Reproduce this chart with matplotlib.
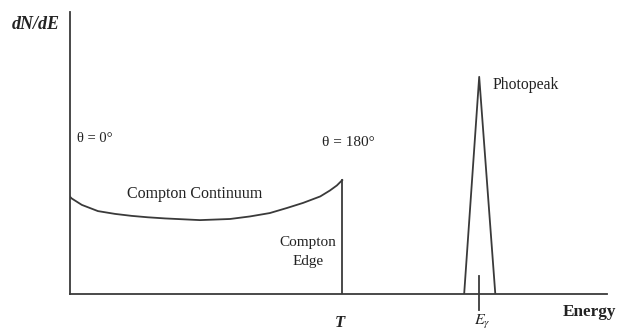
import matplotlib
matplotlib.use("Agg")
import matplotlib.pyplot as plt

# Compton continuum (energy, dN/dE) in arbitrary units
continuum_E = [0.0, 0.03, 0.22, 0.52, 0.84, 1.15, 1.45, 1.77, 2.42, 2.98, 3.35,
               3.72, 4.04, 4.34, 4.66, 4.84, 4.97, 5.07]
continuum_N = [3.45, 3.39, 3.16, 2.94, 2.84, 2.77, 2.72, 2.68, 2.62, 2.66, 2.75,
               2.87, 3.05, 3.23, 3.46, 3.67, 3.85, 4.04]
compton_edge_T = 5.07
# Photopeak triangle
peak_E = [7.34, 7.62, 7.92]
peak_N = [0.0, 7.70, 0.0]
E_gamma = 7.62

plt.rcParams['font.family'] = ['Liberation Serif', 'DejaVu Serif']
plt.rcParams['mathtext.fontset'] = 'stix'
col = '#3a3a3a'
lw = 1.3

fig = plt.figure(figsize=(6.21, 3.33), dpi=100)
ax = fig.add_axes([70/621, 39/333, 537/621, 282/333])
ax.set_xlim(0, 10)
ax.set_ylim(0, 10)
ax.axis('off')

# axes lines
ax.plot([0, 0], [0, 10], color=col, lw=lw, clip_on=False)
ax.plot([0, 10], [0, 0], color=col, lw=lw, clip_on=False)

ax.plot(continuum_E, continuum_N, color=col, lw=lw, solid_joinstyle='round')
ax.plot([compton_edge_T, compton_edge_T], [0, continuum_N[-1]], color=col, lw=lw)
ax.plot(peak_E, peak_N, color=col, lw=lw)
ax.plot([E_gamma, E_gamma], [-0.57, 0.64], color=col, lw=lw, clip_on=False)

tc = '#222222'
ax.text(-0.63, 9.57, 'dN/dE', ha='center', va='center', fontsize=13, fontweight='bold', style='italic', color=tc)
ax.text(0.13, 5.53, 'θ = 0°', ha='left', va='center', fontsize=10.5, color=tc)
ax.text(4.69, 5.39, 'θ = 180°', ha='left', va='center', fontsize=11, color=tc)
ax.text(2.33, 3.55, 'Compton Continuum', ha='center', va='center', fontsize=11.5, color=tc)
ax.text(4.43, 1.49, 'Compton\nEdge', ha='center', va='center', fontsize=11, color=tc, linespacing=1.6)
ax.text(7.86, 7.41, 'Photopeak', ha='left', va='center', fontsize=11.3, color=tc)
ax.text(9.18, -0.64, 'Energy', ha='left', va='center', fontsize=12.3, fontweight='bold', color=tc, clip_on=False)
ax.text(5.03, -1.03, 'T', ha='center', va='center', fontsize=12, fontweight='bold', style='italic', color=tc)
ax.text(7.67, -1.0, r'$E_\gamma$', ha='center', va='center', fontsize=11.5, color=tc)

fig.savefig('out.png', dpi=100)
